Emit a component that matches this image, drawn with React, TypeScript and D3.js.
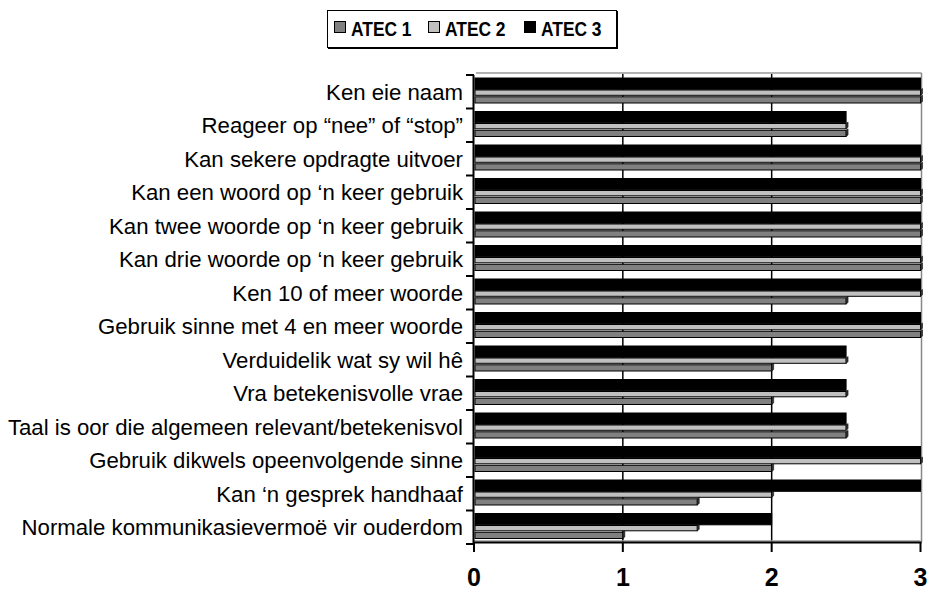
import React from "react";
import * as d3 from "d3";

const categories = [
  "Ken eie naam",
  "Reageer op \u201cnee\u201d of \u201cstop\u201d",
  "Kan sekere opdragte uitvoer",
  "Kan een woord op \u2018n keer gebruik",
  "Kan twee woorde op \u2018n keer gebruik",
  "Kan drie woorde op \u2018n keer gebruik",
  "Ken 10 of meer woorde",
  "Gebruik sinne met 4 en meer woorde",
  "Verduidelik wat sy wil h\u00ea",
  "Vra betekenisvolle vrae",
  "Taal is oor die algemeen relevant/betekenisvol",
  "Gebruik dikwels opeenvolgende sinne",
  "Kan \u2018n gesprek handhaaf",
  "Normale kommunikasievermo\u00eb vir ouderdom",
];

const atec1 = [3, 2.5, 3, 3, 3, 3, 2.5, 3, 2, 2, 2.5, 2, 1.5, 1];
const atec2 = [3, 2.5, 3, 3, 3, 3, 3, 3, 2.5, 2.5, 2.5, 3, 2, 1.5];
const atec3 = [3, 2.5, 3, 3, 3, 3, 3, 3, 2.5, 2.5, 2.5, 3, 3, 2];

const seriesNames = ["ATEC 1", "ATEC 2", "ATEC 3"];
const xTicks = [0, 1, 2, 3];

const W = 928;
const H = 590;
const left = 474;
const right = 920.5;
const top = 73;
const bottom = 542;

export default function App() {
  const x = d3.scaleLinear().domain([0, 3]).range([left, right]);
  const y = d3.scaleBand<string>().domain(categories).range([top, bottom]).padding(0);
  const bw = y.bandwidth();
  const font = "'Liberation Sans', Arial, sans-serif";

  const bars = [
    { data: atec3, fill: "#000000", y0: 5 / 33.5, y1: 16.3 / 33.5 },
    { data: atec2, fill: "#c0c0c0", y0: 17 / 33.5, y1: 22.3 / 33.5 },
    { data: atec1, fill: "#808080", y0: 23.8 / 33.5, y1: 30 / 33.5 },
  ];

  const legendItems = [
    { name: seriesNames[0], fill: "#808080", x: 334 },
    { name: seriesNames[1], fill: "#c0c0c0", x: 428 },
    { name: seriesNames[2], fill: "#000000", x: 524 },
  ];

  return (
    <svg width={W} height={H} style={{ position: "absolute", left: 0, top: 0, background: "#fff" }}>
      <rect x={0} y={0} width={W} height={H} fill="#fff" />
      {/* legend */}
      <rect x={327.5} y={10.5} width={289} height={37} fill="#fff" stroke="#000" strokeWidth={1} />
      <line x1={617} y1={11} x2={617} y2={48.5} stroke="#000" strokeWidth={2} />
      <line x1={328} y1={48} x2={618} y2={48} stroke="#000" strokeWidth={2} />
      {legendItems.map((d) => (
        <g key={d.name}>
          <rect x={d.x + 0.5} y={21.5} width={11} height={11} fill={d.fill} stroke="#000" strokeWidth={1} />
          <text
            transform={`translate(${d.x + 17},35.5) scale(1,1.18)`}
            fontFamily={font}
            fontWeight="bold"
            fontSize={17.4}
            fill="#000"
          >
            {d.name}
          </text>
        </g>
      ))}

      {/* back wall: top and right lines */}
      <line x1={left + 2} y1={top} x2={right + 1} y2={top} stroke="#999" strokeWidth={1.5} />
      <line x1={right + 1} y1={top} x2={right + 1} y2={bottom} stroke="#888" strokeWidth={1.5} />
      {/* gridlines */}
      {xTicks.slice(1, 3).map((t) => (
        <line key={t} x1={x(t)} y1={top + 1} x2={x(t)} y2={bottom} stroke="#000" strokeWidth={1.5} />
      ))}

      {/* bars */}
      {categories.map((c, i) => (
        <g key={c}>
          {bars.map((b, j) => {
            const y0 = (y(c) as number) + b.y0 * bw;
            const y1 = (y(c) as number) + b.y1 * bw;
            const x1 = x(b.data[i]);
            return (
              <g key={j}>
                <rect x={left + 1} y={y0} width={x1 - left - 1} height={y1 - y0} fill={b.fill} stroke="#000" strokeWidth={1} />
                {j > 0 && (
                  <polygon
                    points={`${x1},${y0} ${x1 + 2},${y0 - 1.5} ${x1 + 2},${y1 - 1.5} ${x1},${y1}`}
                    fill="#333"
                    stroke="#000"
                    strokeWidth={0.5}
                  />
                )}
              </g>
            );
          })}
        </g>
      ))}

      {/* floor line */}
      <line x1={left} y1={bottom - 1} x2={right} y2={bottom - 1} stroke="#999" strokeWidth={1.5} />
      {/* left axis */}
      <line x1={left - 0.5} y1={top + 2} x2={left - 0.5} y2={bottom + 1} stroke="#000" strokeWidth={2} />
      {d3.range(categories.length + 1).map((k) => {
        const yy = top + 2 + k * bw;
        return <line key={k} x1={left - 8} y1={yy} x2={left} y2={yy} stroke="#000" strokeWidth={2} />;
      })}
      {/* bottom axis */}
      <line x1={left - 1} y1={bottom + 0.5} x2={right + 1} y2={bottom + 0.5} stroke="#000" strokeWidth={2} />
      {xTicks.map((t) => (
        <g key={t}>
          <line x1={x(t)} y1={bottom} x2={x(t)} y2={bottom + 10} stroke="#000" strokeWidth={2} />
          <text
            transform={`translate(${x(t)},586) scale(1,1.06)`}
            textAnchor="middle"
            fontFamily={font}
            fontWeight="bold"
            fontSize={25}
            fill="#000"
          >
            {t}
          </text>
        </g>
      ))}

      {/* category labels */}
      {categories.map((c) => (
        <text
          key={c}
          x={463}
          y={(y(c) as number) + 2 + bw / 2 + 7.8}
          textAnchor="end"
          fontFamily={font}
          fontSize={22.2}
          fill="#000"
        >
          {c}
        </text>
      ))}
    </svg>
  );
}
